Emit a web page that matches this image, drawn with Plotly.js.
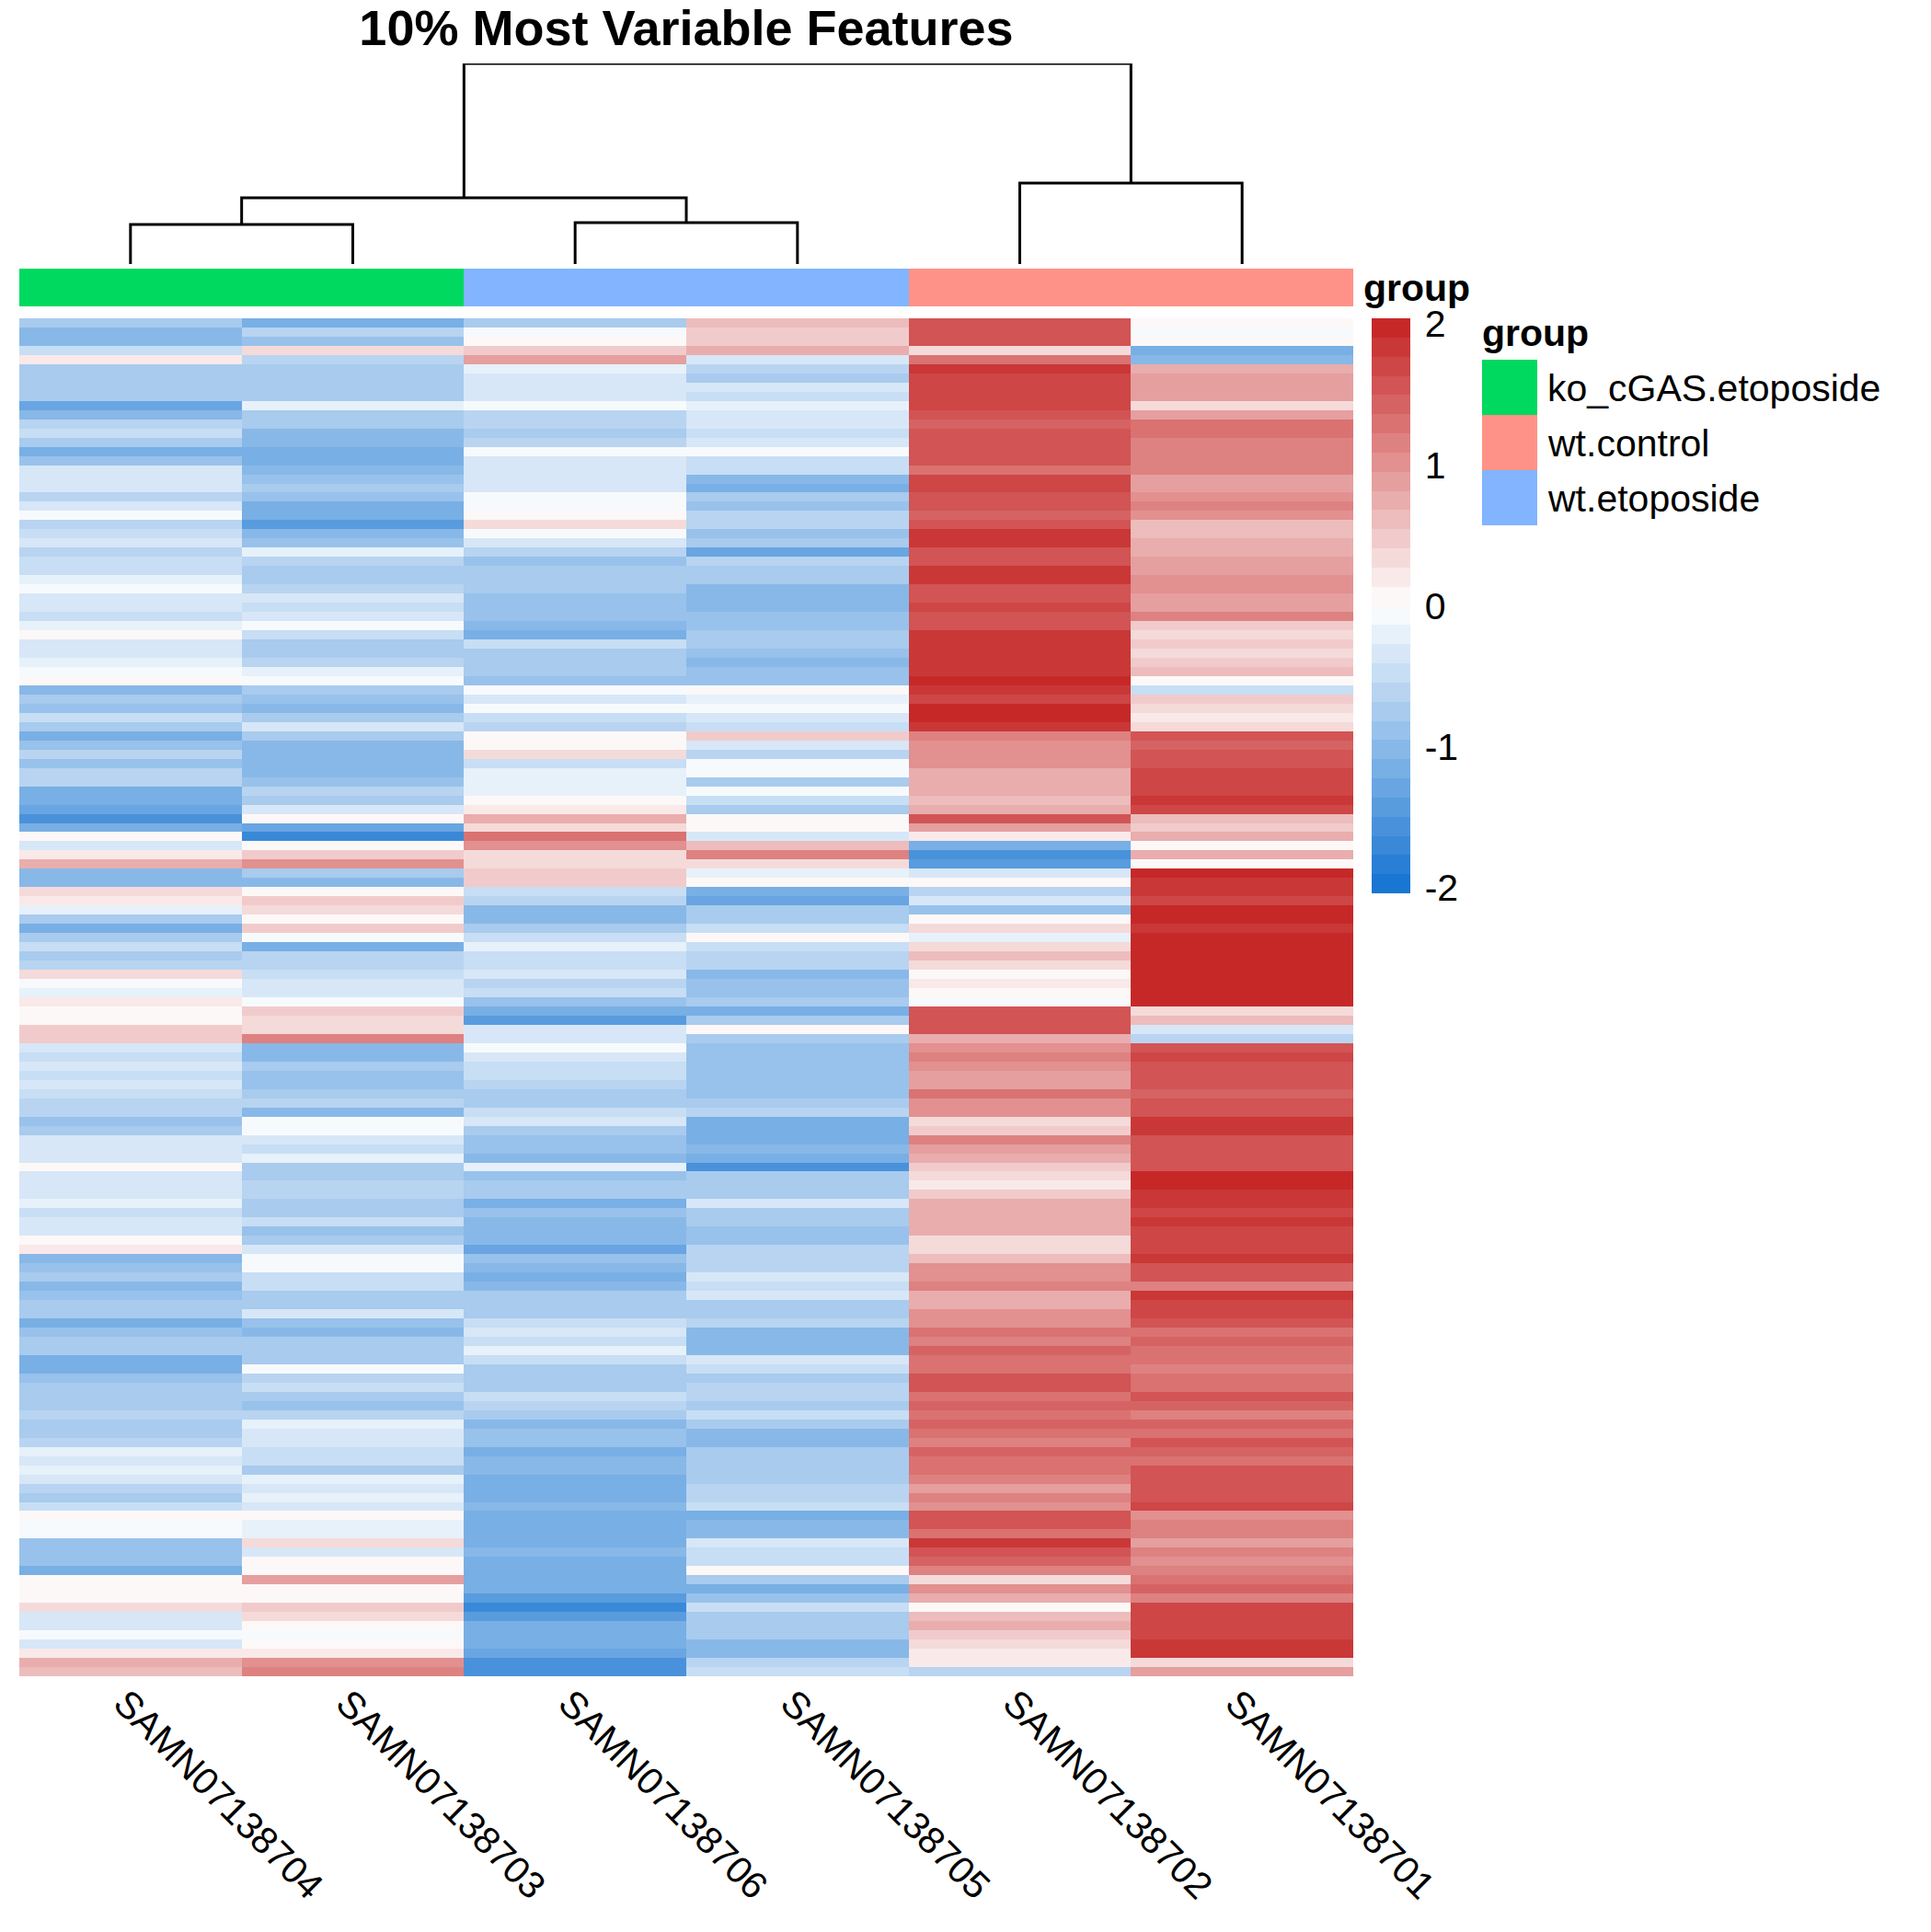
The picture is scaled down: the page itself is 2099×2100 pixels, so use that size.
<!DOCTYPE html>
<html><head><meta charset="utf-8">
<script src="https://cdn.plot.ly/plotly-3.0.1.min.js"></script>
<style>html,body{margin:0;padding:0;background:#fff}</style></head>
<body><div id="chart" style="width:2099px;height:2100px"></div>
<script>
const samples=["SAMN07138704","SAMN07138703","SAMN07138706","SAMN07138705","SAMN07138702","SAMN07138701"];
const sampleGroupIndex=[0,0,2,2,1,1];
const groups=["ko_cGAS.etoposide","wt.control","wt.etoposide"];
const groupColors=["#00D95F","#FF9288","#82B4FF"];
const s704=[-0.7,-1.0,-1.0,-0.5,0.2,-0.7,-0.7,-0.8,-0.7,-1.3,
-1.0,-0.6,-0.5,-0.8,-1.1,-0.9,-0.3,-0.3,-0.4,-0.6,
-0.3,-0.1,-0.6,-0.5,-0.3,-0.6,-0.5,-0.5,-0.2,-0.1,
-0.4,-0.4,-0.5,-0.2,0,-0.4,-0.3,-0.2,-0.1,0,
-1.0,-0.8,-0.9,-0.5,-0.8,-1.2,-0.9,-0.6,-0.9,-0.6,
-0.6,-1.2,-1.2,-1.3,-1.5,-1.2,0.1,-0.3,0.2,0.7,
-1.0,-1.0,0.4,0.2,-0.2,-0.8,-1.1,-0.8,-0.5,-0.7,
-0.6,0.3,-0.1,-0.2,0.2,0.1,0,0.5,0.5,-0.3,
-0.5,-0.4,-0.5,-0.3,-0.5,-0.6,-0.6,-0.9,-0.8,-0.4,
-0.3,-0.3,0,-0.4,-0.3,-0.3,-0.2,-0.5,-0.4,-0.3,
0,0.2,-1.0,-0.9,-0.8,-1.0,-0.9,-0.7,-0.8,-1.1,
-0.9,-0.7,-0.8,-1.1,-1.2,-0.9,-0.8,-0.8,-0.7,-0.6,
-0.7,-0.7,-0.6,-0.2,-0.3,-0.2,-0.3,-0.6,-0.7,-0.5,
0.1,-0.1,-0.1,-0.9,-0.9,-0.9,-1.1,0,0,0.1,
0.4,-0.4,-0.4,-0.1,-0.4,0.2,0.7,0.6];
const s703=[-1.1,-0.6,-0.9,0.3,-0.6,-0.7,-0.7,-0.8,-0.8,-0.2,
-0.7,-0.8,-1.0,-1.0,-1.1,-1.1,-1.0,-0.9,-0.7,-0.9,
-1.1,-1.2,-1.4,-1.0,-0.9,-0.2,-0.6,-0.7,-0.7,-0.6,
-0.3,-0.5,-0.3,-0.1,-0.5,-0.7,-0.7,-0.6,-0.2,-0.1,
-0.7,-0.9,-1.0,-0.7,-0.3,-0.8,-1.0,-1.0,-1.0,-1.0,
-0.9,-0.6,-0.7,-0.3,0,-1.3,-1.7,0,0.5,1.0,
-0.7,-1.0,0,0.5,0.3,0.1,0.5,-0.1,-1.1,-0.6,
-0.6,-0.5,-0.4,-0.4,-0.1,0.5,0.3,0.3,1.2,-1.0,
-1.0,-0.8,-0.9,-0.9,-0.7,-0.6,-1.0,-0.1,-0.1,-0.3,
-0.5,-0.2,-0.7,-0.7,-0.6,-0.6,-0.7,-0.7,-0.5,-0.9,
-0.8,-0.3,-0.1,-0.1,-0.5,-0.5,-0.8,-0.8,-0.4,-0.9,
-1.0,-0.8,-0.7,-0.7,-0.1,-0.6,-0.5,-0.7,-0.9,-0.6,
-0.2,-0.4,-0.4,-0.5,-0.5,-0.7,-0.2,-0.3,-0.2,-0.4,
0,-0.2,-0.2,0.3,-0.4,0,0,0.9,0.1,0.1,
0.5,0.3,0,-0.1,0,0.2,1.0,1.1];
const s706=[-0.7,-0.1,0.1,0.5,0.9,-0.2,-0.3,-0.3,-0.4,-0.1,
-0.6,-0.6,-0.7,-0.6,-0.1,-0.3,-0.4,-0.4,-0.3,-0.1,
-0.1,0,0.3,-0.1,-0.4,-0.6,-0.9,-0.8,-0.8,-0.8,
-0.9,-0.9,-0.9,-1.0,-1.2,-0.5,-0.7,-0.7,-0.8,-0.9,
-0.1,-0.3,-0.1,-0.5,-0.6,0,0.1,0.4,-0.5,-0.2,
-0.2,-0.2,0,0.2,0.7,0.3,1.3,1.0,0.4,0.3,
0.5,0.5,-0.5,-0.6,-1.0,-1.0,-0.8,-0.5,-0.2,-0.5,
-0.5,-0.3,-0.6,-0.5,-0.9,-1.1,-1.4,-0.3,-0.4,-0.1,
-0.3,-0.5,-0.5,-0.6,-0.8,-0.8,-0.5,-0.3,-0.8,-0.9,
-0.9,-1.0,-0.2,-0.9,-0.8,-0.8,-1.1,-0.9,-1.0,-1.0,
-1.0,-1.3,-0.9,-1.0,-1.1,-1.0,-0.8,-0.8,-0.8,-0.5,
-0.4,-0.5,-0.2,-0.5,-0.7,-0.8,-0.7,-0.5,-0.6,-0.8,
-1.0,-0.9,-0.9,-1.1,-1.0,-1.0,-1.1,-1.2,-1.2,-1.0,
-1.2,-1.1,-1.1,-1.2,-1.0,-1.1,-1.2,-1.2,-1.2,-1.4,
-1.7,-1.4,-1.2,-1.1,-1.1,-1.3,-1.6,-1.6];
const s705=[0.6,0.5,0.5,0.7,-0.3,-0.6,-0.8,-0.4,-0.5,-0.2,
-0.3,-0.3,-0.5,-0.4,-0.1,-0.5,-0.5,-1.0,-1.1,-0.8,
-0.9,-0.6,-0.6,-0.9,-0.7,-1.3,-0.6,-0.7,-0.7,-1.0,
-1.0,-1.0,-0.9,-0.9,-0.8,-0.8,-0.9,-1.0,-0.9,-0.9,
0.1,-0.2,-0.1,-0.4,-0.5,0.5,-0.3,-0.6,-0.1,-0.1,
-0.7,-0.1,-0.5,-0.7,0.1,0.1,-0.3,0.6,1.2,0.3,
-0.2,0.1,-1.2,-1.3,-0.7,-0.7,-0.5,0,-0.5,-0.6,
-0.6,-1.0,-0.9,-0.9,-0.7,-1.2,-0.7,0,-0.7,-0.9,
-0.9,-0.9,-0.9,-0.9,-0.9,-0.8,-0.6,-1.2,-1.1,-1.1,
-1.0,-1.1,-1.5,-0.7,-0.7,-0.7,-0.4,-0.7,-0.8,-0.9,
-0.9,-0.6,-0.6,-0.6,-0.4,-0.5,-0.4,-0.7,-0.7,-0.6,
-1.0,-1.0,-1.0,-0.3,-0.5,-0.7,-0.6,-0.6,-0.7,-0.5,
-0.8,-1.0,-1.0,-0.7,-0.7,-0.8,-0.8,-0.6,-0.6,-0.5,
-1.1,-1.0,-1.0,-0.3,-0.5,-0.5,0,-0.8,-1.1,-0.9,
-0.5,-0.7,-0.8,-0.8,-1.0,-1.0,-0.6,-0.5];
const s702=[1.6,1.6,1.6,0.4,1.3,1.9,1.7,1.7,1.7,1.7,
1.5,1.4,1.5,1.5,1.6,1.5,1.3,1.7,1.7,1.6,
1.5,1.4,1.6,1.9,1.8,1.6,1.6,1.8,1.8,1.6,
1.6,1.7,1.6,1.6,1.8,1.9,1.9,1.8,1.8,2.0,
1.9,1.7,2.0,2.0,1.9,1.2,1.0,1.0,1.0,0.8,
0.7,0.8,0.6,0.8,1.5,0.9,0.2,-1.2,-1.5,-1.4,
-0.4,0,-0.6,-0.3,-0.9,0.1,0.3,-0.2,0.4,0.6,
0.4,0.1,0.2,0.1,-0.1,1.5,1.5,1.6,0.8,1.0,
1.1,1.0,0.9,0.9,1.3,1.0,1.0,0.4,0.5,1.1,
0.9,0.8,0.5,0.3,0.2,0.5,0.7,0.7,0.7,0.8,
0.4,0.4,0.6,1.0,1.0,1.1,0.8,0.8,1.0,1.0,
1.3,1.2,1.4,1.3,1.3,1.5,1.5,1.3,1.4,1.3,
1.4,1.3,1.1,1.4,1.3,1.3,1.1,0.9,1.1,1.0,
1.5,1.5,1.3,1.8,1.6,1.4,1.2,0.3,1.0,0.8,
0.1,0.6,0.7,0.5,0.4,0.2,0.2,-0.6];
const s701=[0.1,-0.1,0,-1.2,-1.0,0.8,0.9,0.9,0.9,0.4,
0.9,1.3,1.3,1.2,1.1,1.2,1.2,0.9,0.9,1.0,
1.2,1.0,0.6,0.6,0.7,0.8,0.9,0.9,1.0,1.0,
0.9,0.9,1.1,0.5,0.4,0.5,0.4,0.5,0.6,0.1,
-0.5,0.5,0.3,0.2,0.3,1.5,1.4,1.6,1.6,1.7,
1.7,1.7,1.8,1.7,0.6,0.5,0.7,0.1,0.8,0.1,
2.0,1.9,1.8,1.7,2.0,2.0,1.9,2.0,2.0,2.0,
2.0,2.0,2.0,2.0,2.0,0.4,0.6,-0.3,-0.6,1.6,
1.7,1.6,1.6,1.6,1.4,1.5,1.5,1.8,1.8,1.5,
1.6,1.5,1.5,2.0,2.0,1.9,1.8,1.7,1.8,1.7,
1.7,1.7,1.8,1.6,1.5,1.2,1.8,1.7,1.7,1.5,
1.3,1.4,1.3,1.3,1.2,1.3,1.3,1.5,1.4,1.2,
1.4,1.3,1.5,1.4,1.3,1.5,1.5,1.6,1.5,1.7,
1.0,1.1,1.1,0.9,1.1,1.0,1.2,1.3,1.4,1.2,
1.7,1.7,1.7,1.7,1.9,1.8,0.3,0.9];
const columns=[s704,s703,s706,s705,s702,s701];
// dendrogram merges: left x, right x, left height, right height, merge height
const mergeLeftX=[0,2,0.5,4,1.5];
const mergeRightX=[1,3,2.5,5,4.5];
const mergeLeftH=[0,0,43,0,72];
const mergeRightH=[0,0,45,0,88];
const mergeH=[43,45,72,88,218];
const colorbarTicks=[-2,-1,0,1,2];

const W=2099,H=2100;
const px=v=>v/W, py=v=>1-v/H;
// heat colours: 30-step ramp, blue - white - red
const ramp=[[25,118,210],[255,255,255],[198,40,40]],bins=30,zLim=2.04;
const hex=c=>'rgb('+c.map(Math.round).join(',')+')';
const heatScale=[];
for(let i=0;i<bins;i++){
  const t=i/(bins-1)*2,k=Math.min(1,Math.floor(t)),f=t-k;
  const col=hex(ramp[k].map((v,j)=>v+(ramp[k+1][j]-v)*f));
  heatScale.push([i/bins,col],[(i+1)/bins,col]);
}
const stepScale=cols=>{const o=[];cols.forEach((c,i)=>{o.push([i/cols.length,c],[(i+1)/cols.length,c]);});return o;};
const nRows=s704.length;
const rowIdx=Array.from({length:nRows},(_,i)=>i);
const colIdx=samples.map((_,i)=>i);
const z=rowIdx.map(r=>columns.map(c=>c[r]));
const dx=[],dy=[];
mergeH.forEach((h,i)=>{
  dx.push(mergeLeftX[i],mergeLeftX[i],mergeRightX[i],mergeRightX[i],null);
  dy.push(mergeLeftH[i],h,h,mergeRightH[i],null);
});
const FONT='"Liberation Sans",Arial,sans-serif';
const traces=[
 {type:'heatmap',x:colIdx,y:rowIdx,z:z,xaxis:'x',yaxis:'y',zmin:-zLim,zmax:zLim,colorscale:heatScale,zsmooth:false,hoverinfo:'skip',
  colorbar:{x:px(1491),xanchor:'left',xpad:0,ypad:0,y:py(346),yanchor:'top',len:625,lenmode:'pixels',thickness:42,thicknessmode:'pixels',
    outlinewidth:0,borderwidth:0,tickmode:'array',tickvals:colorbarTicks,ticktext:colorbarTicks.map(String),ticks:'outside',ticklen:8,tickwidth:0.01,tickcolor:'rgba(0,0,0,0)',
    tickfont:{family:FONT,size:41,color:'#000'}}},
 {type:'heatmap',x:colIdx,y:[0],z:[sampleGroupIndex],xaxis:'x',yaxis:'y2',zmin:0,zmax:3,colorscale:stepScale(groupColors),showscale:false,hoverinfo:'skip'},
 {type:'scatter',mode:'lines',x:dx,y:dy,xaxis:'x',yaxis:'y3',line:{color:'#000',width:3,shape:'linear'},cliponaxis:false,hoverinfo:'skip',showlegend:false},
 {type:'heatmap',x:[0],y:groups,z:groups.map((_,i)=>[i]),xaxis:'x2',yaxis:'y4',zmin:0,zmax:3,colorscale:stepScale(groupColors),showscale:false,hoverinfo:'skip'}
];
const hidden={visible:false,fixedrange:true};
const layout={
 width:W,height:H,autosize:false,margin:{l:0,r:0,t:0,b:0},paper_bgcolor:'#fff',plot_bgcolor:'#fff',showlegend:false,
 title:{text:'10% Most Variable Features',x:px(746),xref:'paper',xanchor:'center',y:py(30),yref:'paper',yanchor:'middle',pad:{t:0,b:0,l:0,r:0},font:{family:FONT,size:54,weight:700,color:'#000'}},
 xaxis:{domain:[px(21),px(1471)],range:[-0.5,5.5],tickmode:'array',tickvals:colIdx,ticktext:samples,tickangle:45,ticklabelshift:-6,ticklabelstandoff:-4,ticks:'',showgrid:false,zeroline:false,showline:false,anchor:'y',automargin:false,tickfont:{family:FONT,size:41,color:'#000'},fixedrange:true},
 yaxis:{domain:[py(1822),py(346)],range:[nRows-0.5,-0.5],showticklabels:false,ticks:'',showgrid:false,zeroline:false,showline:false,anchor:'x',fixedrange:true},
 yaxis2:Object.assign({domain:[py(333),py(292)],range:[-0.5,0.5],anchor:'x'},hidden),
 yaxis3:Object.assign({domain:[py(287),py(69)],range:[0,218],anchor:'x'},hidden),
 xaxis2:Object.assign({domain:[px(1611),px(1671)],range:[-0.5,0.5],anchor:'y4'},hidden),
 yaxis4:Object.assign({domain:[py(571),py(391)],range:[2.5,-0.5],type:'category',anchor:'x2'},hidden),
 annotations:[
  {text:'group',xref:'paper',yref:'paper',x:px(1480),y:py(313),xanchor:'left',yanchor:'middle',showarrow:false,font:{family:FONT,size:41,weight:700,color:'#000'}},
  {text:'group',xref:'paper',yref:'paper',x:px(1609),y:py(362),xanchor:'left',yanchor:'middle',showarrow:false,font:{family:FONT,size:41,weight:700,color:'#000'}}
 ].concat(groups.map((g,i)=>({text:g,xref:'paper',yref:'y4',x:px(1680),y:g,yshift:-1,xanchor:'left',yanchor:'middle',showarrow:false,font:{family:FONT,size:41,color:'#000'}})))
};
Plotly.newPlot('chart',traces,layout,{staticPlot:true,displayModeBar:false});
</script></body></html>
